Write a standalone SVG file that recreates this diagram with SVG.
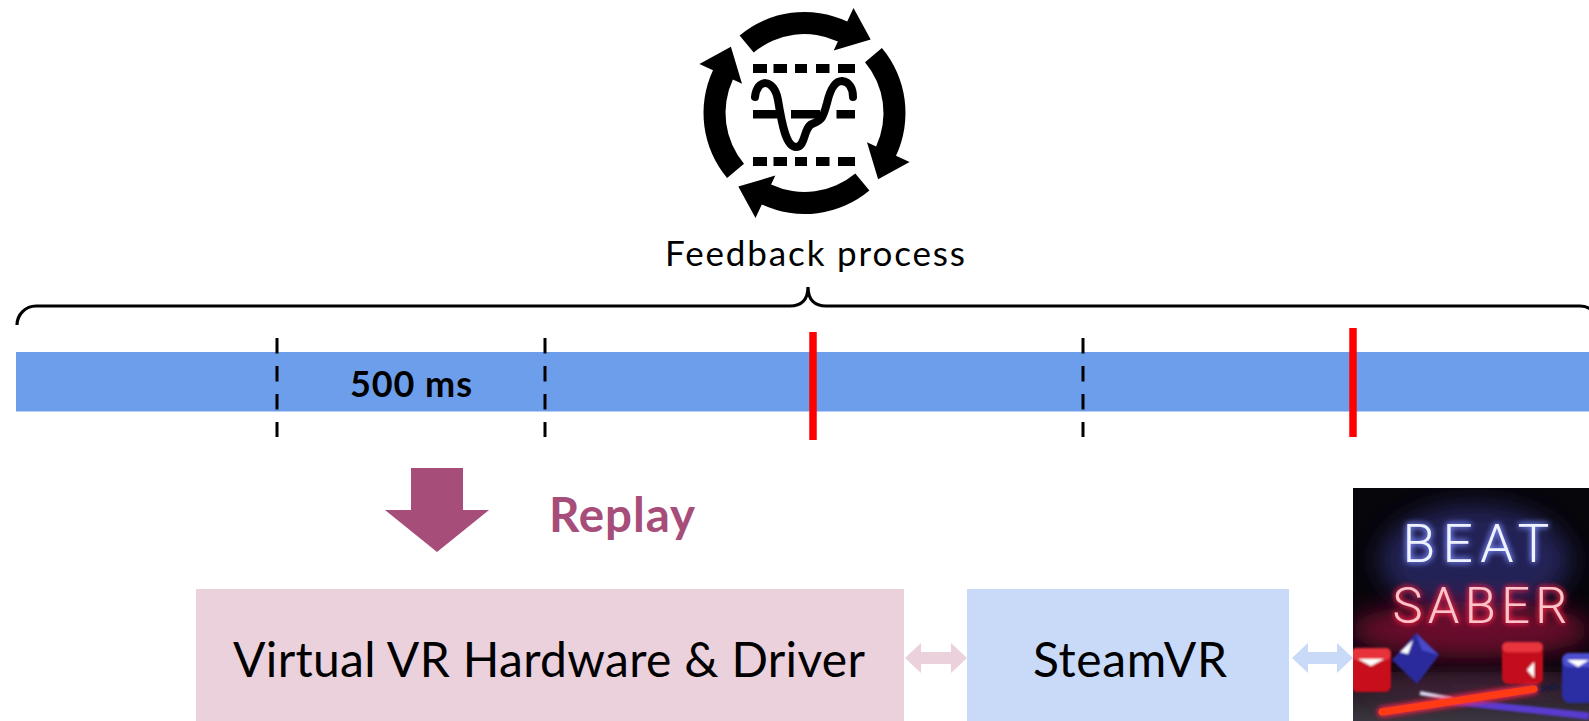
<svg xmlns="http://www.w3.org/2000/svg" width="1589" height="721" viewBox="0 0 1589 721">
  <style>
    .txt { font-family: Lato, "Liberation Sans", sans-serif; fill: #000; }
    .bold { font-weight: 700; }
    .tick { stroke: #000; stroke-width: 3; stroke-dasharray: 15.5 12.5; fill: none; }
    .cut { stroke: #ff0000; stroke-width: 7.5; fill: none; }
    .ink { fill: #000; }
    .neon { font-family: Roboto, "DejaVu Sans", sans-serif; font-weight: 300; }
  </style>
  <defs>
    <filter id="glowBlue" x="-30%" y="-40%" width="160%" height="180%">
      <feGaussianBlur in="SourceAlpha" stdDeviation="3.2" result="b"/>
      <feFlood flood-color="#7d8dff" flood-opacity="0.95"/>
      <feComposite in2="b" operator="in" result="g"/>
      <feMerge><feMergeNode in="g"/><feMergeNode in="g"/><feMergeNode in="SourceGraphic"/></feMerge>
    </filter>
    <filter id="glowRed" x="-30%" y="-40%" width="160%" height="180%">
      <feGaussianBlur in="SourceAlpha" stdDeviation="3.2" result="b"/>
      <feFlood flood-color="#ff2a4a" flood-opacity="0.95"/>
      <feComposite in2="b" operator="in" result="g"/>
      <feMerge><feMergeNode in="g"/><feMergeNode in="g"/><feMergeNode in="SourceGraphic"/></feMerge>
    </filter>
    <filter id="soft" x="-20%" y="-20%" width="140%" height="140%">
      <feGaussianBlur stdDeviation="1.2"/>
    </filter>
    <filter id="haze" x="-50%" y="-50%" width="200%" height="200%">
      <feGaussianBlur stdDeviation="12"/>
    </filter>
    <clipPath id="bsClip"><rect x="1353" y="488" width="236" height="233"/></clipPath>
    <linearGradient id="floor" x1="0" y1="0" x2="0" y2="1">
      <stop offset="0" stop-color="#1a0d16"/>
      <stop offset="1" stop-color="#3a3640"/>
    </linearGradient>
    <!-- one curved arrow of the cycle icon; the others are rotated copies -->
    <path id="cycleArrow" d="M739.6,35.6 A101,101 0 0 1 847.2,21.5 L853.5,7.9 L870.7,39.4 L833.7,50.5 L837.9,41.4 A79,79 0 0 0 753.7,52.5 Z"/>
  </defs>

  <!-- feedback cycle icon -->
  <g id="feedback-icon">
    <use href="#cycleArrow" class="ink"/>
    <use href="#cycleArrow" class="ink" transform="rotate(90 804.5 113)"/>
    <use href="#cycleArrow" class="ink" transform="rotate(180 804.5 113)"/>
    <use href="#cycleArrow" class="ink" transform="rotate(270 804.5 113)"/>
    <g class="ink">
      <rect x="753" y="64" width="14" height="9"/>
      <rect x="773.5" y="64" width="13.5" height="9"/>
      <rect x="795" y="64" width="12" height="9"/>
      <rect x="816" y="64" width="13.5" height="9"/>
      <rect x="838" y="64" width="17" height="9"/>
      <rect x="753" y="157" width="14" height="9"/>
      <rect x="773.5" y="157" width="13.5" height="9"/>
      <rect x="795" y="157" width="12" height="9"/>
      <rect x="816" y="157" width="13.5" height="9"/>
      <rect x="838" y="157" width="17" height="9"/>
      <rect x="753" y="110" width="24" height="8.5"/>
      <rect x="791" y="110" width="29" height="8.5"/>
      <rect x="836.5" y="110" width="18.5" height="8.5"/>
    </g>
    <path d="M755,97 C757,78 774,78 778,100 C782,125 786,147 796,147 C806,147 803,128 812,124 C822,120 823,118 827,103 C831,86 836,81 842,81 C850,82 853,89 853,97" fill="none" stroke="#000" stroke-width="8" stroke-linecap="round" stroke-linejoin="round"/>
  </g>

  <g id="feedback-label">
    <text class="txt" x="815" y="266" font-size="35" text-anchor="middle" textLength="300">Feedback process</text>
  </g>

  <!-- brace spanning the whole timeline -->
  <g id="brace">
    <path d="M17,325 A19,19 0 0 1 36,306 H790 C801,306 808,300 808,287 C808,300 815,306 826,306 H1580 A19,19 0 0 1 1599,325" fill="none" stroke="#000" stroke-width="3.2"/>
  </g>

  <!-- timeline bar with window markers -->
  <g id="timeline">
    <rect x="16" y="352" width="1573" height="59.5" fill="#6d9eeb"/>
    <line class="tick" x1="277" y1="338" x2="277" y2="437"/>
    <line class="tick" x1="545" y1="338" x2="545" y2="437"/>
    <line class="tick" x1="1083" y1="338" x2="1083" y2="437"/>
    <line class="cut" x1="813" y1="332" x2="813" y2="440"/>
    <line class="cut" x1="1353" y1="328" x2="1353" y2="437"/>
    <text class="txt bold" x="350" y="397" font-size="36" textLength="122">500 ms</text>
  </g>

  <!-- replay step -->
  <g id="replay">
    <path d="M411,468 H463 V510 H489 L437,552 L385,510 H411 Z" fill="#a64d79"/>
    <text class="txt bold" x="549" y="532" font-size="47.5" textLength="146" style="fill:#a64d79">Replay</text>
  </g>

  <g id="node-hardware">
    <rect x="196" y="589" width="708" height="132" fill="#ead1dc"/>
    <text class="txt" x="549" y="677" font-size="48" text-anchor="middle" textLength="632">Virtual VR Hardware &amp; Driver</text>
  </g>

  <g id="node-steamvr">
    <rect x="967" y="589" width="322" height="132" fill="#c9daf8"/>
    <text class="txt" x="1130" y="677" font-size="48" text-anchor="middle" textLength="194">SteamVR</text>
  </g>

  <!-- game artwork tile -->
  <g id="node-beatsaber">
    <g clip-path="url(#bsClip)">
      <rect x="1353" y="488" width="236" height="233" fill="#07060b"/>
      <ellipse cx="1475" cy="560" rx="95" ry="55" fill="#2a2c6a" opacity="0.8" filter="url(#haze)"/>
      <ellipse cx="1470" cy="630" rx="120" ry="28" fill="#7a1030" opacity="0.85" filter="url(#haze)"/>
      <rect x="1353" y="672" width="236" height="49" fill="url(#floor)"/>
      <ellipse cx="1470" cy="686" rx="110" ry="10" fill="#5a2a48" opacity="0.7" filter="url(#haze)"/>
      <!-- neon logo -->
      <text class="neon" x="1476" y="562" font-size="53.4" text-anchor="middle" textLength="147" fill="#eef3ff" filter="url(#glowBlue)">BEAT</text>
      <text class="neon" x="1480" y="623" font-size="50.6" text-anchor="middle" textLength="175" fill="#ffc2c8" filter="url(#glowRed)">SABER</text>
      <!-- blocks and sabers -->
      <g filter="url(#soft)">
        <rect x="1351" y="648" width="40" height="44" rx="6" fill="#c8101e"/>
        <rect x="1351" y="648" width="40" height="12" rx="5" fill="#e8303a"/>
        <path d="M1358,659 L1384,659 L1371,666 Z" fill="#ffffff"/>
        <path d="M1416,633 L1439,655 L1417,684 L1392,660 Z" fill="#2b2c9c"/>
        <path d="M1416,633 L1439,655 L1422,650 Z" fill="#4a4ccc"/>
        <path d="M1400,652 L1413,640 L1408,654 Z" fill="#ffffff"/>
        <rect x="1502" y="642" width="41" height="42" rx="6" fill="#c4101c"/>
        <rect x="1502" y="642" width="41" height="10" rx="5" fill="#e8343c"/>
        <path d="M1534,662 L1534,678 L1527,670 Z" fill="#ffffff"/>
        <rect x="1562" y="653" width="34" height="50" rx="8" fill="#2c2ea2"/>
        <rect x="1562" y="653" width="34" height="14" rx="7" fill="#4b4fd0"/>
        <path d="M1567,660 L1589,660 L1578,667 Z" fill="#ffffff"/>
        <path d="M1440,700 L1589,716" stroke="#5a3ad0" stroke-width="7" fill="none"/>
        <path d="M1420,693 L1452,699" stroke="#d8d8f0" stroke-width="4" fill="none"/>
        <path d="M1533,690 L1560,686" stroke="#1a1a3a" stroke-width="5" fill="none"/>
      </g>
      <path d="M1382,712 L1534,689" stroke="#ff3a14" stroke-width="7" stroke-linecap="round" fill="none" filter="url(#glowRed)"/>
    </g>
  </g>

  <!-- links between the runtime components -->
  <g id="connectors">
    <path d="M905,658 L921,643 V652 H951 V643 L967,658 L951,673 V664 H921 V673 Z" fill="#ead1dc"/>
    <path d="M1292,658 L1308,643 V652 H1337 V643 L1353,658 L1337,673 V664 H1308 V673 Z" fill="#c9daf8"/>
  </g>
</svg>
